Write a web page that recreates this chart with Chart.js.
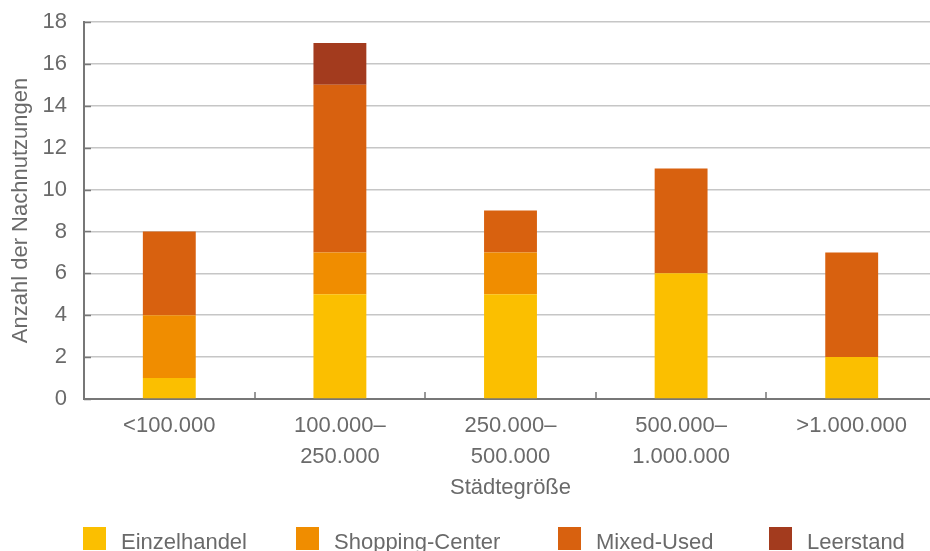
<!DOCTYPE html>
<html lang="de">
<head>
  <meta charset="UTF-8">
  <title>Nachnutzungen nach Städtegröße</title>
  <script src="https://cdn.jsdelivr.net/npm/chart.js@4.4.1/dist/chart.umd.min.js"></script>
  <style>
    html, body {
      margin: 0;
      padding: 0;
      background: #fff;
      overflow: hidden;
      font-family: "Liberation Sans", Arial, sans-serif;
    }
    #wrap {
      position: relative;
      width: 930px;
      height: 551px;
      overflow: hidden;
    }
    #nachnutzungChart {
      position: absolute;
      left: 0;
      top: 0;
    }
    #legende {
      position: absolute;
      left: 83px;
      top: 527px;
      display: grid;
      grid-template-columns: 213px 262px 211px auto;
      font-size: 22px;
      line-height: 25px;
      color: #6a6a6a;
      white-space: nowrap;
    }
    #legende .item {
      display: flex;
      align-items: flex-start;
    }
    #legende .box {
      width: 23px;
      height: 23px;
      margin-right: 15px;
      flex: none;
    }
    #legende .text {
      position: relative;
      top: 2px;
    }
  </style>
</head>
<body>

  <div id="wrap">
    <canvas id="nachnutzungChart" width="940" height="551"></canvas>
    <div id="legende"></div>
  </div>

  <script>
    // Städtegrößen (Kategorien der x-Achse)
    const staedtegroessen = [
      '<100.000',
      ['100.000–', '250.000'],
      ['250.000–', '500.000'],
      ['500.000–', '1.000.000'],
      '>1.000.000'
    ];

    // Anzahl der Nachnutzungen je Art
    const einzelhandel   = [1, 5, 5, 6, 2];
    const shoppingCenter = [3, 2, 2, 0, 0];
    const mixedUsed      = [4, 8, 2, 5, 5];
    const leerstand      = [0, 2, 0, 0, 0];

    const textFarbe = '#6a6a6a';
    const achsenFarbe = '#777777';
    const schrift = '"Liberation Sans", Arial, sans-serif';

    // kurze Striche nach innen an den Achsen
    const innenStriche = {
      id: 'innenStriche',
      afterDraw(chart) {
        const { ctx, chartArea, scales } = chart;
        ctx.save();
        ctx.strokeStyle = achsenFarbe;
        ctx.lineWidth = 1.5;
        ctx.beginPath();
        scales.y.ticks.forEach((t, i) => {
          const y = Math.round(scales.y.getPixelForTick(i)) + 0.5;
          ctx.moveTo(chartArea.left, y);
          ctx.lineTo(chartArea.left + 7, y);
        });
        for (let i = 1; i < staedtegroessen.length; i++) {
          const x = Math.round((scales.x.getPixelForValue(i - 1) + scales.x.getPixelForValue(i)) / 2);
          ctx.moveTo(x, chartArea.bottom);
          ctx.lineTo(x, chartArea.bottom - 7);
        }
        ctx.stroke();
        ctx.restore();
      }
    };

    const ctx = document.getElementById('nachnutzungChart').getContext('2d');

    const chart = new Chart(ctx, {
      type: 'bar',
      data: {
        labels: staedtegroessen,
        datasets: [
          { label: 'Einzelhandel', data: einzelhandel, backgroundColor: '#fbbf00' },
          { label: 'Shopping-Center', data: shoppingCenter, backgroundColor: '#f08d00' },
          { label: 'Mixed-Used', data: mixedUsed, backgroundColor: '#d8610f' },
          { label: 'Leerstand', data: leerstand, backgroundColor: '#a33b1e' }
        ]
      },
      options: {
        responsive: false,
        animation: false,
        layout: {
          padding: { top: 22, right: 3, bottom: 40, left: 0 }
        },
        datasets: {
          bar: {
            categoryPercentage: 1,
            barPercentage: 0.31,
            borderWidth: 0
          }
        },
        plugins: {
          legend: { display: false },
          tooltip: { enabled: false }
        },
        scales: {
          x: {
            stacked: true,
            afterFit(scale) {
              scale.height = 112;
              scale.paddingLeft = 0;
              scale.paddingRight = 0;
            },
            grid: { display: false, drawTicks: false },
            border: { display: true, color: achsenFarbe, width: 2 },
            ticks: {
              color: textFarbe,
              padding: 12,
              maxRotation: 0,
              font: { family: schrift, size: 22, lineHeight: 1.4 }
            },
            title: {
              display: true,
              text: 'Städtegröße',
              color: textFarbe,
              padding: { top: 4, bottom: 10 },
              font: { family: schrift, size: 22 }
            }
          },
          y: {
            stacked: true,
            min: 0,
            max: 18,
            afterFit(scale) {
              scale.width = 84;
              scale.paddingTop = 0;
              scale.paddingBottom = 0;
            },
            ticks: {
              stepSize: 2,
              color: textFarbe,
              padding: 17,
              font: { family: schrift, size: 22 }
            },
            grid: { color: '#c6c6c6', lineWidth: 1.5, drawTicks: false },
            border: { display: true, color: achsenFarbe, width: 2 },
            title: {
              display: true,
              text: 'Anzahl der Nachnutzungen',
              color: textFarbe,
              padding: { top: 8, bottom: 8 },
              font: { family: schrift, size: 22 }
            }
          }
        }
      },
      plugins: [innenStriche]
    });

    // Legende aus den Datensätzen aufbauen
    const legende = document.getElementById('legende');
    chart.data.datasets.forEach(ds => {
      const item = document.createElement('div');
      item.className = 'item';
      const box = document.createElement('span');
      box.className = 'box';
      box.style.background = ds.backgroundColor;
      const text = document.createElement('span');
      text.className = 'text';
      text.textContent = ds.label;
      item.appendChild(box);
      item.appendChild(text);
      legende.appendChild(item);
    });
  </script>

</body>
</html>
